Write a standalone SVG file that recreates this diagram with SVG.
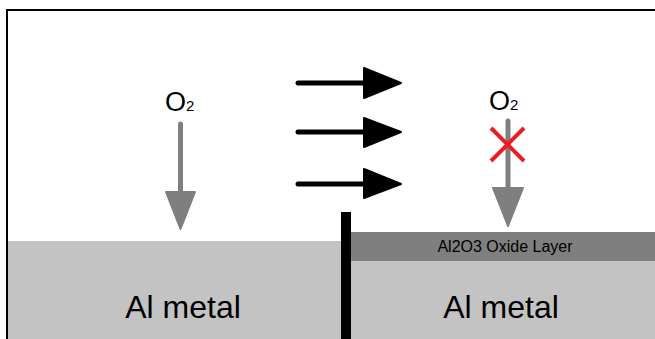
<svg xmlns="http://www.w3.org/2000/svg" width="655" height="339" viewBox="0 0 655 339">
  <defs>
    <style>
      .txt { font-family: "Liberation Sans", Arial, sans-serif; fill: #000; }
      .gshaft { stroke: #7f7f7f; stroke-width: 5; stroke-linecap: round; fill: none; }
      .ghead { fill: #7f7f7f; stroke: #7f7f7f; stroke-width: 2; stroke-linejoin: round; }
      .bshaft { stroke: #000; stroke-width: 5; stroke-linecap: round; fill: none; }
      .bhead { fill: #000; stroke: #000; stroke-width: 2; stroke-linejoin: round; }
      .cross { stroke: #ed1c24; stroke-width: 4; fill: none; }
    </style>
  </defs>
  <rect x="0" y="0" width="655" height="339" fill="#ffffff"/>
  <g id="left-metal">
    <rect x="8" y="241" width="334" height="98" fill="#c3c3c3"/>
    <text class="txt" x="183" y="318" font-size="32" text-anchor="middle">Al metal</text>
  </g>
  <g id="oxide-layer">
    <rect x="351" y="232" width="304" height="29" fill="#7f7f7f"/>
    <text class="txt" x="505" y="252" font-size="16" text-anchor="middle" fill="#1a1a1a">Al2O3 Oxide Layer</text>
  </g>
  <g id="right-metal">
    <rect x="351" y="261" width="304" height="78" fill="#c3c3c3"/>
    <text class="txt" x="501" y="318" font-size="32" text-anchor="middle">Al metal</text>
  </g>
  <g id="barrier">
    <rect x="341" y="212" width="10" height="127" fill="#000"/>
  </g>
  <g id="frame">
    <path d="M7 339 V10 H655" fill="none" stroke="#000" stroke-width="2"/>
  </g>
  <g id="o2-left">
    <text class="txt" x="165" y="111" font-size="27">O<tspan font-size="15">2</tspan></text>
  </g>
  <g id="o2-right">
    <text class="txt" x="489" y="110" font-size="27">O<tspan font-size="15">2</tspan></text>
  </g>
  <g id="connectors">
    <line class="gshaft" x1="180.5" y1="124" x2="180.5" y2="192"/>
    <polygon class="ghead" points="166,192 195,192 180.5,229"/>
    <line class="gshaft" x1="508" y1="121" x2="508" y2="188"/>
    <polygon class="ghead" points="493,188 523,188 508,226"/>
    <line class="bshaft" x1="298" y1="83" x2="366" y2="83"/>
    <polygon class="bhead" points="364,68 364,98 401,83"/>
    <line class="bshaft" x1="298" y1="132" x2="366" y2="132"/>
    <polygon class="bhead" points="364,118 364,147 401,132"/>
    <line class="bshaft" x1="298" y1="184" x2="366" y2="184"/>
    <polygon class="bhead" points="364,169 364,198 401,184"/>
  </g>
  <g id="block-mark">
    <line class="cross" x1="491" y1="128" x2="524" y2="161"/>
    <line class="cross" x1="491" y1="161" x2="524" y2="128"/>
  </g>
</svg>
